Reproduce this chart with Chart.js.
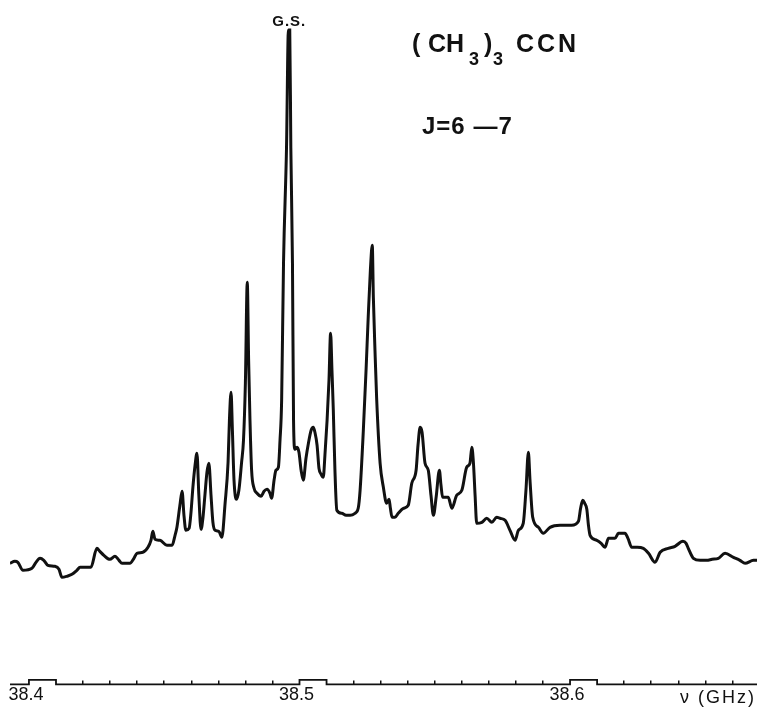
<!DOCTYPE html>
<html>
<head>
<meta charset="utf-8">
<title>(CH3)3CCN J=6-7</title>
<script src="https://cdn.jsdelivr.net/npm/chart.js@4"></script>
<style>
  html, body { margin: 0; padding: 0; background: #fff; }
  #wrap { width: 759px; height: 711px; }
</style>
</head>
<body>
<div id="wrap"><canvas id="spectrum" width="759" height="711"></canvas></div>
<script>
const INK = "#111";
const FONT = "'Liberation Sans', Arial, Helvetica, sans-serif";

// frequency axis range (GHz)
const X_MIN = 38.3930;
const X_MAX = 38.6691;

// tick marks every 10 MHz, labels only at 38.4 / 38.5 / 38.6
const TICK_VALUES = [
  38.40, 38.42, 38.43, 38.44, 38.45, 38.46, 38.47, 38.48, 38.49,
  38.50, 38.52, 38.53, 38.54, 38.55, 38.56, 38.57, 38.58, 38.59,
  38.60, 38.62, 38.63, 38.64, 38.65, 38.66,
];
const LABELLED_TICKS = [38.40, 38.50, 38.60];
const TICK_LABELS = ["38.4", "38.5", "38.6"];

// recorded spectrum: frequency (GHz) and signal (arb. units)
const FREQ = [
  38.3930, 38.3948, 38.3959, 38.3978, 38.4011, 38.4026, 38.4041, 38.4055, 38.4070, 38.4096,
  38.4111, 38.4122, 38.4140, 38.4159, 38.4177, 38.4189, 38.4211, 38.4229, 38.4251, 38.4262,
  38.4277, 38.4299, 38.4318, 38.4333, 38.4344, 38.4373, 38.4388, 38.4399, 38.4421, 38.4440,
  38.4451, 38.4458, 38.4466, 38.4484, 38.4510, 38.4529, 38.4540, 38.4547, 38.4558, 38.4566,
  38.4573, 38.4580, 38.4592, 38.4599, 38.4606, 38.4614, 38.4621, 38.4628, 38.4636, 38.4643,
  38.4651, 38.4658, 38.4665, 38.4673, 38.4680, 38.4688, 38.4702, 38.4713, 38.4725, 38.4736,
  38.4741, 38.4747, 38.4752, 38.4758, 38.4767, 38.4776, 38.4786, 38.4793, 38.4800, 38.4807,
  38.4812, 38.4817, 38.4823, 38.4832, 38.4843, 38.4858, 38.4869, 38.4880, 38.4891, 38.4897,
  38.4906, 38.4913, 38.4922, 38.4928, 38.4934, 38.4941, 38.4952, 38.4959, 38.4964, 38.4968,
  38.4974, 38.4978, 38.4983, 38.4991, 38.4998, 38.5006, 38.5014, 38.5024, 38.5033, 38.5043,
  38.5051, 38.5057, 38.5065, 38.5072, 38.5080, 38.5088, 38.5094, 38.5102, 38.5109, 38.5115,
  38.5120, 38.5125, 38.5131, 38.5138, 38.5156, 38.5172, 38.5187, 38.5205, 38.5217, 38.5224,
  38.5236, 38.5246, 38.5254, 38.5262, 38.5269, 38.5273, 38.5279, 38.5285, 38.5298, 38.5310,
  38.5322, 38.5331, 38.5336, 38.5342, 38.5353, 38.5365, 38.5384, 38.5402, 38.5415, 38.5431,
  38.5438, 38.5446, 38.5453, 38.5464, 38.5476, 38.5486, 38.5495, 38.5505, 38.5517, 38.5523,
  38.5529, 38.5550, 38.5563, 38.5581, 38.5600, 38.5618, 38.5630, 38.5637, 38.5643, 38.5649,
  38.5655, 38.5674, 38.5692, 38.5711, 38.5729, 38.5741, 38.5760, 38.5778, 38.5797, 38.5809,
  38.5827, 38.5837, 38.5846, 38.5852, 38.5862, 38.5883, 38.5901, 38.5926, 38.5963, 38.6006,
  38.6031, 38.6039, 38.6047, 38.6054, 38.6062, 38.6068, 38.6074, 38.6099, 38.6115, 38.6129,
  38.6142, 38.6166, 38.6179, 38.6203, 38.6214, 38.6228, 38.6248, 38.6271, 38.6290, 38.6314,
  38.6333, 38.6363, 38.6388, 38.6417, 38.6429, 38.6437, 38.6456, 38.6481, 38.6505, 38.6525,
  38.6548, 38.6573, 38.6604, 38.6628, 38.6647, 38.6678, 38.6691,
];
const SIGNAL = [
  121, 123, 122, 114, 116, 122, 126, 124, 119, 118,
  115, 107, 108, 110, 114, 117, 117, 117, 136, 133,
  129, 125, 128, 124, 121, 121, 126, 131, 132, 137,
  144, 153, 145, 144, 139, 139, 149, 157, 179, 193,
  169, 154, 156, 172, 197, 219, 231, 189, 155, 166,
  191, 212, 221, 189, 162, 154, 153, 147, 181, 222,
  264, 292, 254, 204, 185, 194, 222, 244, 301, 402,
  324, 264, 214, 196, 191, 188, 193, 195, 191, 186,
  204, 214, 217, 244, 284, 422, 536, 654, 654, 536,
  422, 264, 235, 237, 232, 214, 204, 226, 241, 254,
  257, 252, 239, 216, 210, 207, 229, 264, 304, 351,
  314, 274, 214, 174, 171, 169, 169, 171, 176, 194,
  254, 314, 367, 414, 439, 387, 334, 287, 221, 197,
  181, 185, 176, 167, 167, 171, 176, 179, 201, 214,
  239, 257, 252, 221, 214, 189, 169, 187, 214, 199,
  187, 187, 176, 189, 194, 217, 221, 237, 221, 189,
  161, 162, 166, 162, 167, 166, 164, 154, 144, 154,
  161, 194, 232, 204, 167, 157, 151, 157, 159, 159,
  163, 176, 184, 181, 175, 159, 149, 144, 141, 137,
  146, 146, 151, 151, 146, 137, 137, 136, 131, 122,
  132, 136, 138, 143, 141, 136, 126, 124, 124, 125,
  126, 131, 127, 124, 121, 124, 124,
];

// frequency marker trace along the bottom (pulses every 100 MHz)
const MARKER_FREQ = [
  38.3930, 38.40, 38.40, 38.41, 38.41,
  38.50, 38.50, 38.51, 38.51,
  38.60, 38.60, 38.61, 38.61, 38.6691,
];
const MARKER_LEVEL = [0, 0, 4.5, 4.5, 0, 0, 4.5, 4.5, 0, 0, 4.5, 4.5, 0, 0];

const GS_FREQ = 38.4962;
const Y_MAX = 684;

const annotations = {
  id: "annotations",
  afterDraw(chart) {
    const ctx = chart.ctx;
    const xs = chart.scales.x;
    ctx.save();
    ctx.fillStyle = INK;
    ctx.textBaseline = "alphabetic";

    ctx.font = "bold 15px " + FONT;
    ctx.letterSpacing = "1px";
    ctx.textAlign = "center";
    ctx.fillText("G.S.", xs.getPixelForValue(GS_FREQ), 26);

    ctx.textAlign = "left";
    ctx.letterSpacing = "0px";
    ctx.font = "bold 25px " + FONT;
    ctx.fillText("(", 412, 52);
    ctx.fillText("CH", 428, 52);
    ctx.fillText(")", 484, 52);
    ctx.letterSpacing = "3px";
    ctx.fillText("CCN", 516, 52);
    ctx.letterSpacing = "0px";
    ctx.font = "bold 18px " + FONT;
    ctx.fillText("3", 469, 65);
    ctx.fillText("3", 493, 65);

    ctx.font = "bold 24px " + FONT;
    ctx.letterSpacing = "1px";
    ctx.fillText("J=6 \u20147", 422, 134);

    ctx.font = "18px " + FONT;
    ctx.letterSpacing = "2px";
    ctx.fillText("\u03BD (GHz)", 680, 703);
    ctx.restore();
  },
};

const ctx = document.getElementById("spectrum").getContext("2d");
new Chart(ctx, {
  type: "line",
  data: {
    datasets: [
      {
        label: "spectrum",
        data: FREQ.map((f, i) => ({ x: f, y: SIGNAL[i] })),
        borderColor: INK,
        borderWidth: 3,
        pointRadius: 0,
        cubicInterpolationMode: "monotone",
        fill: false,
      },
      {
        label: "marker",
        data: MARKER_FREQ.map((f, i) => ({ x: f, y: MARKER_LEVEL[i] })),
        borderColor: INK,
        borderWidth: 1.8,
        pointRadius: 0,
        tension: 0,
        fill: false,
        clip: false,
      },
    ],
  },
  options: {
    responsive: false,
    animation: false,
    events: [],
    layout: { padding: { left: 10, right: 2, top: 0, bottom: 1 } },
    plugins: {
      legend: { display: false },
      tooltip: { enabled: false },
    },
    scales: {
      x: {
        type: "linear",
        min: X_MIN,
        max: X_MAX,
        afterBuildTicks: (scale) => {
          scale.ticks = TICK_VALUES.map((v) => ({ value: v }));
        },
        border: { display: false },
        grid: {
          drawOnChartArea: false,
          drawTicks: true,
          tickLength: -4,
          lineWidth: 1.5,
          color: (c) => (c.tick && LABELLED_TICKS.includes(c.tick.value) ? "rgba(0,0,0,0)" : INK),
        },
        ticks: {
          autoSkip: false,
          maxRotation: 0,
          minRotation: 0,
          padding: 4,
          labelOffset: -3,
          color: INK,
          font: { family: FONT, size: 18 },
          callback: (v) => {
            const k = LABELLED_TICKS.indexOf(v);
            return k >= 0 ? TICK_LABELS[k] : "";
          },
        },
      },
      y: { display: false, min: 0, max: Y_MAX },
    },
  },
  plugins: [annotations],
});
</script>
</body>
</html>
